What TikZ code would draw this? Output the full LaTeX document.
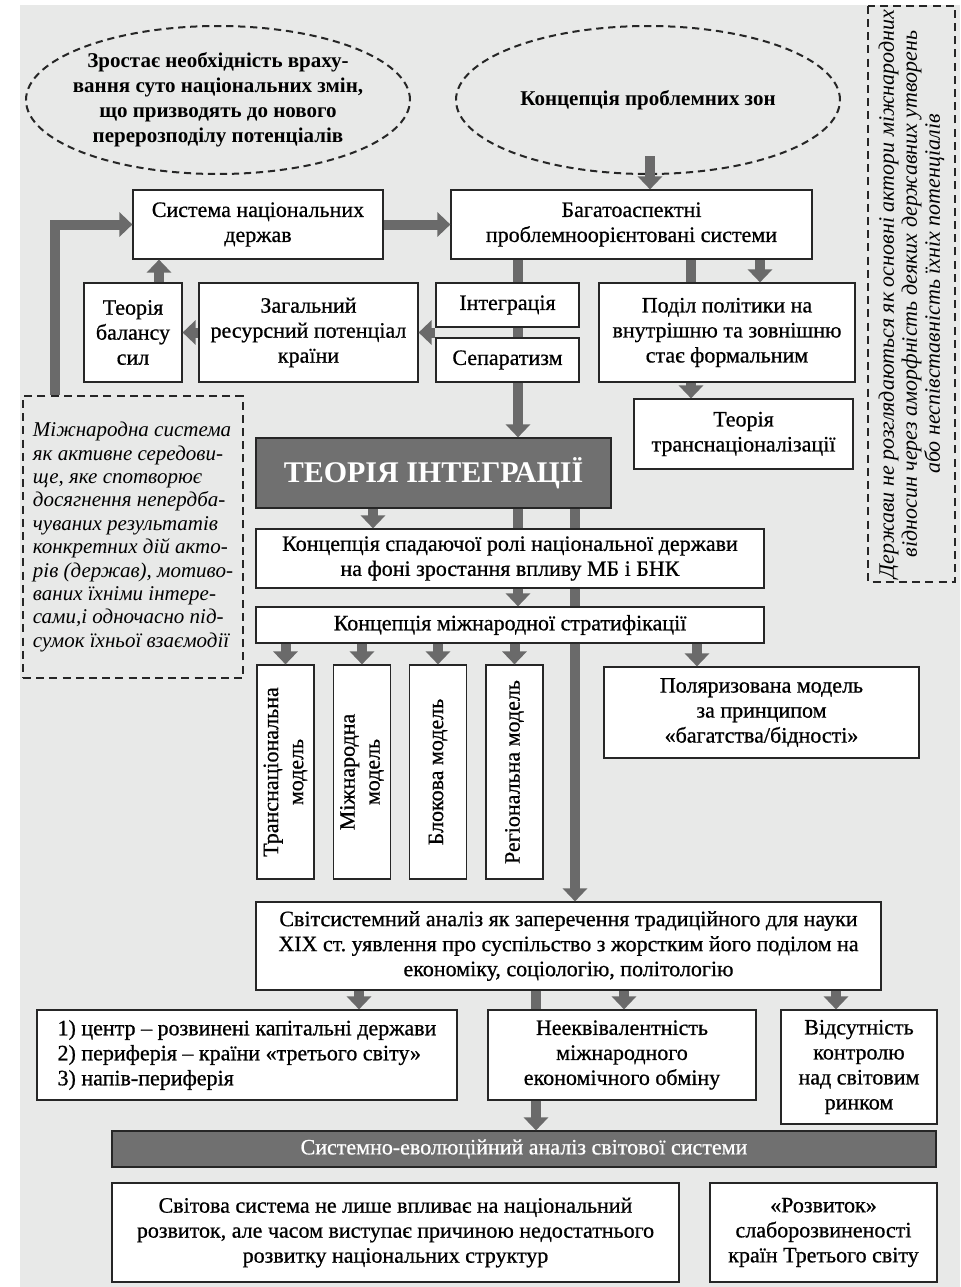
\documentclass[tikz,border=0pt]{standalone}
\usepackage{fontspec}
\setmainfont{Liberation Serif}
\newfontfamily\boxfont{Liberation Serif}[FakeBold=0.7]
\usetikzlibrary{positioning,arrows.meta,shapes.geometric}
\frenchspacing

\definecolor{bggray}{RGB}{232,233,232}
\definecolor{bargray}{RGB}{106,106,106}
\definecolor{darkfill}{RGB}{112,112,112}

\tikzset{
	box/.style={draw=black!85, fill=white, line width=0.6pt, align=center, inner sep=2pt, font=\boxfont\fontsize{11}{12.5}\selectfont},
	darkbox/.style={box, fill=darkfill, text=white},
	note/.style={draw=black!85, line width=1.1pt, dash pattern=on 4pt off 2.6pt, align=center, inner sep=2pt},
	zone/.style={draw=black!85, line width=1pt, dash pattern=on 3.6pt off 2.4pt},
	zonetext/.style={align=center, inner sep=0pt, font=\bfseries\fontsize{10.5}{12.5}\selectfont},
	bar/.style={draw=bargray, line width=5pt},
	fat/.style={bar, -{Triangle[width=12pt,length=6.5pt]}},
}

\begin{document}
\begin{tikzpicture}[x=0.5pt, y=-0.5pt]
			\fill[bggray] (20,5) rectangle (960,1287);
			\useasboundingbox (0,0) rectangle (960,1287);

			% columns of the connectors
			\coordinate (xloop) at (55,0);
			\coordinate (xbal) at (159,0);
			\coordinate (xint) at (518,0);
			\coordinate (xdiv) at (691,0);
			\coordinate (xdivb) at (760,0);
			\coordinate (xdec) at (373,0);
			\coordinate (xlong) at (575,0);
			\coordinate (xpol) at (697,0);
			\coordinate (xcore) at (359,0);
			\coordinate (xneq) at (536,0);
			\coordinate (xneqb) at (624,0);
			\coordinate (xctl) at (836,0);
			\coordinate (yjoin) at (0,332.5);
			\coordinate (probfoot) at (650,156);

			% zones on top
			\node[zonetext] (growth) at (218,100) {Зростає необхідність враху-\\вання суто національних змін,\\що призводять до нового\\перерозподілу потенціалів};
			\draw[zone] (growth.center) ellipse [x radius=96pt, y radius=37pt];
			\node[zonetext] (problem) at (648,100) {Концепція проблемних зон};
			\draw[zone] (problem.center) ellipse [x radius=96pt, y radius=37pt];

			% side notes
			\node[note, rotate=90, minimum width=286pt, minimum height=43.5pt, font=\itshape\fontsize{11}{11.5}\selectfont] (amorph) at (911.5,294) {Держави не розглядаються як основні актори міжнародних\\відносин через аморфність деяких державних утворень\\або неспівставність їхніх потенціалів};
			\node[note, align=left, minimum width=110pt, minimum height=141pt, font=\itshape\fontsize{10.5}{11.7}\selectfont] (actors) at (133,537) {Міжнародна система\\як активне середови-\\ще, яке спотворює\\досягнення непердба-\\чуваних результатів\\конкретних дій акто-\\рів (держав), мотиво-\\ваних їхніми інтере-\\сами,і одночасно під-\\сумок їхньої взаємодії};

			% upper boxes
			\node[box, minimum width=125pt, minimum height=34.5pt] (nat) at (258,224.5) {Система національних\\держав};
			\node[box, minimum width=180.5pt, minimum height=34.5pt] (multi) at (631.5,224.5) {Багатоаспектні\\проблемноорієнтовані системи};
			\node[box, minimum width=49pt, minimum height=49.5pt] (balance) at (133,332.5) {Теорія\\балансу\\сил};
			\node[box, minimum width=109.5pt, minimum height=49.5pt] (resource) at (308.5,332.5) {Загальний\\ресурсний потенціал\\країни};
			\node[box, minimum width=71.5pt, minimum height=22pt] (integ) at (507.5,305) {Інтеграція};
			\node[box, minimum width=71.5pt, minimum height=22pt] (separ) at (507.5,360) {Сепаратизм};
			\node[box, minimum width=128pt, minimum height=49.5pt] (division) at (727,332.5) {Поділ політики на\\внутрішню та зовнішню\\стає формальним};
			\node[box, minimum width=109.5pt, minimum height=35pt] (transnat) at (743.5,434) {Теорія\\транснаціоналізації};

			% middle boxes
			\node[darkbox, minimum width=177.5pt, minimum height=35pt, font=\bfseries\fontsize{15}{18}\selectfont] (theory) at (433.5,473) {ТЕОРІЯ ІНТЕГРАЦІЇ};
			\node[box, minimum width=254pt, minimum height=29.5pt] (decline) at (510,558.5) {Концепція спадаючої ролі національної держави\\на фоні зростання впливу МБ і БНК};
			\node[box, minimum width=254pt, minimum height=18pt] (strat) at (510,625) {Концепція міжнародної стратифікації};
			\node[box, rotate=90, minimum width=107pt, minimum height=28.5pt] (mtrans) at (285.5,772) {Транснаціональна\\модель};
			\node[box, rotate=90, minimum width=107pt, minimum height=28.5pt] (minter) at (362,772) {Міжнародна\\модель};
			\node[box, rotate=90, minimum width=107pt, minimum height=28.5pt] (mblock) at (438,772) {Блокова модель};
			\node[box, rotate=90, minimum width=107pt, minimum height=28.5pt] (mregion) at (514.5,772) {Регіональна модель};
			\node[box, minimum width=157.5pt, minimum height=45.5pt] (polar) at (761.5,712.5) {Поляризована модель\\за принципом\\«багатства/бідності»};

			% lower boxes
			\node[box, minimum width=312.5pt, minimum height=44pt] (world) at (568.5,946) {Світсистемний аналіз як заперечення традиційного для науки\\XIX ст. уявлення про суспільство з жорстким його поділом на\\економіку, соціологію, політологію};
			\node[box, align=left, minimum width=210pt, minimum height=45pt] (core) at (247,1055) {1) центр – розвинені капітальні держави\\2) периферія – країни «третього світу»\\3) напів-периферія};
			\node[box, minimum width=134pt, minimum height=45pt] (nonequiv) at (622,1055) {Нееквівалентність\\міжнародного\\економічного обміну};
			\node[box, minimum width=78pt, minimum height=57pt] (control) at (859,1067) {Відсутність\\контролю\\над світовим\\ринком};
			\node[darkbox, minimum width=412pt, minimum height=18pt] (evol) at (524,1149) {Системно-еволюційний аналіз світової системи};
			\node[box, minimum width=283.5pt, minimum height=49.5pt] (worldsys) at (395.5,1232.5) {Світова система не лише впливає на національний\\розвиток, але часом виступає причиною недостатнього\\розвитку національних структур};
			\node[box, minimum width=113.5pt, minimum height=49.5pt] (underdev) at (823.5,1232.5) {«Розвиток»\\слаборозвиненості\\країн Третього світу};

			% upper connectors
			\draw[fat] (actors.north -| xloop) |- (nat.west);
			\draw[fat] (nat.east) -- (multi.west);
			\draw[fat] (probfoot) -- (multi.north -| probfoot);
			\draw[fat] (balance.north -| xbal) -- (nat.south -| xbal);
			\draw[fat] (resource.west) -- (balance.east);
			\draw[fat] (integ.west |- yjoin) -- (resource.east |- yjoin);
			\draw[bar] (multi.south -| xint) -- (integ.north -| xint);
			\draw[bar] (integ.south -| xint) -- (separ.north -| xint);
			\draw[fat] (separ.south -| xint) -- (theory.north -| xint);
			\draw[bar] (multi.south -| xdiv) -- (division.north -| xdiv);
			\draw[fat] (multi.south -| xdivb) -- (division.north -| xdivb);
			\draw[fat] (division.south -| xdiv) -- (transnat.north -| xdiv);

			% middle connectors
			\draw[fat] (theory.south -| xdec) -- (decline.north -| xdec);
			\draw[bar] (theory.south -| xint) -- (decline.north -| xint);
			\draw[bar] (theory.south -| xlong) -- (decline.north -| xlong);
			\draw[fat] (decline.south -| xint) -- (strat.north -| xint);
			\draw[bar] (decline.south -| xlong) -- (strat.north -| xlong);
			\draw[fat] (strat.south -| mtrans) -- (mtrans.east);
			\draw[fat] (strat.south -| minter) -- (minter.east);
			\draw[fat] (strat.south -| mblock) -- (mblock.east);
			\draw[fat] (strat.south -| mregion) -- (mregion.east);
			\draw[fat] (strat.south -| xpol) -- (polar.north -| xpol);
			\draw[fat] (strat.south -| xlong) -- (world.north -| xlong);

			% lower connectors
			\draw[fat] (world.south -| xcore) -- (core.north -| xcore);
			\draw[bar] (world.south -| xneq) -- (nonequiv.north -| xneq);
			\draw[fat] (world.south -| xneqb) -- (nonequiv.north -| xneqb);
			\draw[fat] (world.south -| xctl) -- (control.north -| xctl);
			\draw[fat] (nonequiv.south -| xneq) -- (evol.north -| xneq);

\end{tikzpicture}
\end{document}
